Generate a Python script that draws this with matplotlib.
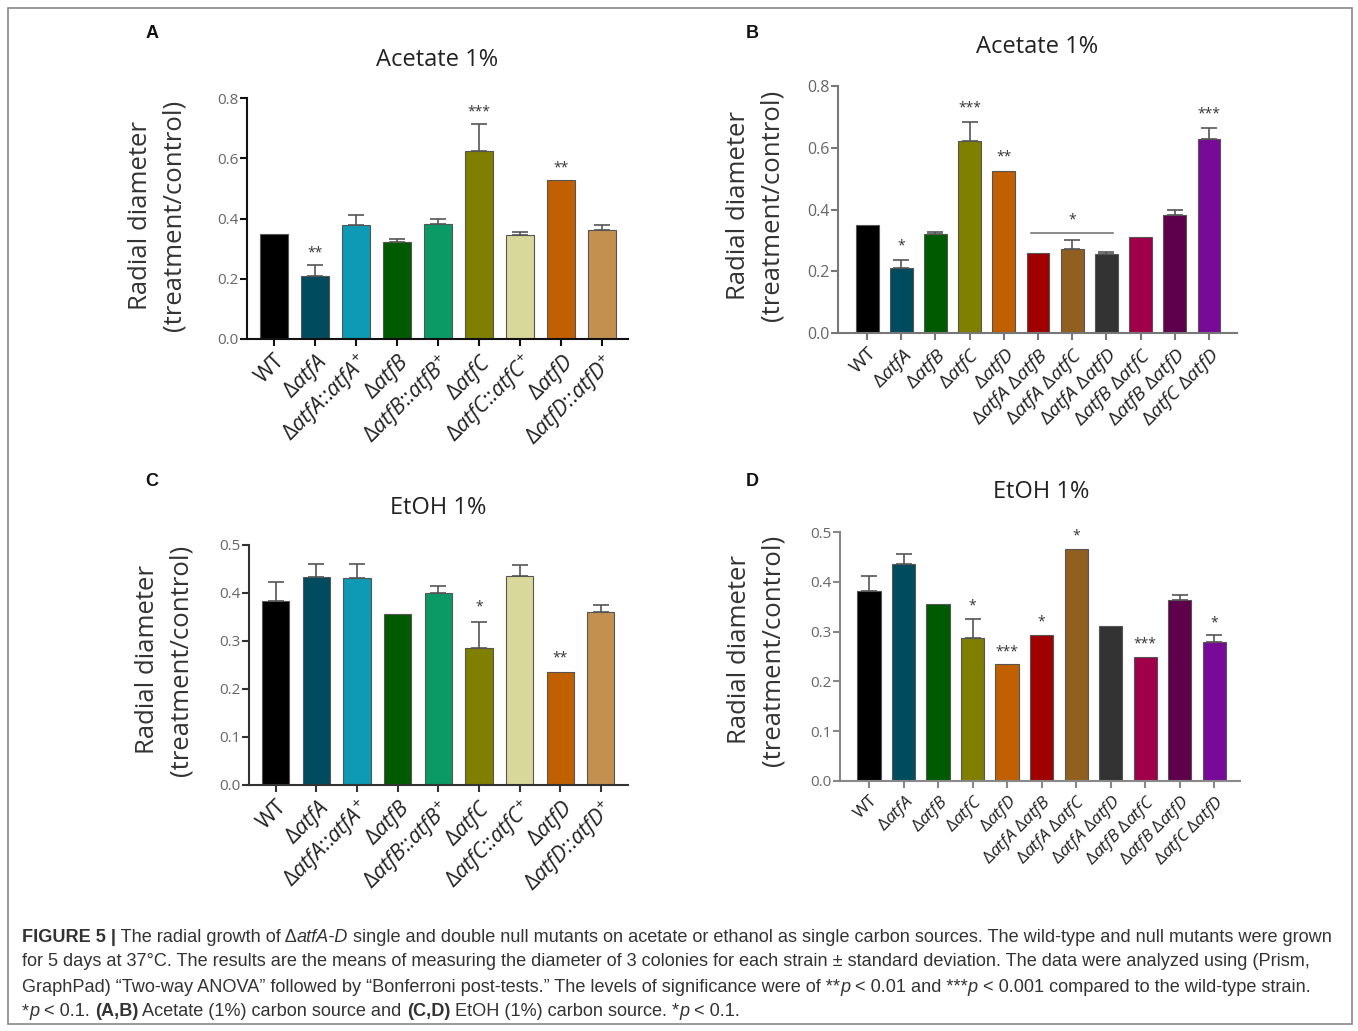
import matplotlib
matplotlib.use('Agg')
import matplotlib.pyplot as plt
from matplotlib.patches import Rectangle
import numpy as np

plt.rcParams['font.family'] = ['Open Sans', 'DejaVu Sans']
plt.rcParams['mathtext.fontset'] = 'custom'
plt.rcParams['mathtext.rm'] = 'Open Sans'
plt.rcParams['mathtext.it'] = 'Open Sans:italic'
plt.rcParams['mathtext.bf'] = 'Open Sans:bold'

W, H = 1358, 1031

# ---- data ----
single_labels = ['WT', r'Δ$\mathit{atfA}$', r'Δ$\mathit{atfA}$::$\mathit{atfA}^{+}$',
                 r'Δ$\mathit{atfB}$', r'Δ$\mathit{atfB}$::$\mathit{atfB}^{+}$',
                 r'Δ$\mathit{atfC}$', r'Δ$\mathit{atfC}$::$\mathit{atfC}^{+}$',
                 r'Δ$\mathit{atfD}$', r'Δ$\mathit{atfD}$::$\mathit{atfD}^{+}$']
double_labels = ['WT', r'Δ$\mathit{atfA}$', r'Δ$\mathit{atfB}$', r'Δ$\mathit{atfC}$', r'Δ$\mathit{atfD}$',
                 r'Δ$\mathit{atfA}$ Δ$\mathit{atfB}$', r'Δ$\mathit{atfA}$ Δ$\mathit{atfC}$',
                 r'Δ$\mathit{atfA}$ Δ$\mathit{atfD}$', r'Δ$\mathit{atfB}$ Δ$\mathit{atfC}$',
                 r'Δ$\mathit{atfB}$ Δ$\mathit{atfD}$', r'Δ$\mathit{atfC}$ Δ$\mathit{atfD}$']

single_colors = ['#000000', '#004c5e', '#0e99b4', '#005a00', '#0b9966',
                 '#7f7f00', '#d8d89a', '#c06000', '#c4904f']
double_colors = ['#000000', '#004c5e', '#005a00', '#7f7f00', '#c06000',
                 '#a00000', '#915f20', '#333333', '#a0004a', '#5e004c', '#780a98']

acetate_single = [0.350, 0.208, 0.378, 0.321, 0.381, 0.624, 0.346, 0.529, 0.361]
acetate_single_sd = [0, 0.039, 0.035, 0.010, 0.016, 0.090, 0.010, 0, 0.016]
acetate_single_sig = ['', '**', '', '', '', '***', '', '**', '']

acetate_double = [0.350, 0.209, 0.321, 0.622, 0.526, 0.258, 0.273, 0.256, 0.311, 0.383, 0.629]
acetate_double_sd = [0, 0.027, 0.007, 0.063, 0, 0, 0.027, 0.007, 0, 0.017, 0.036]
acetate_double_sig = ['', '*', '', '***', '**', '', '', '', '', '', '***']

etoh_single = [0.383, 0.434, 0.431, 0.356, 0.401, 0.286, 0.436, 0.235, 0.361]
etoh_single_sd = [0.040, 0.027, 0.029, 0, 0.014, 0.054, 0.022, 0, 0.015]
etoh_single_sig = ['', '', '', '', '', '*', '', '**', '']

etoh_double = [0.382, 0.435, 0.356, 0.288, 0.234, 0.294, 0.466, 0.312, 0.250, 0.363, 0.279]
etoh_double_sd = [0.030, 0.020, 0, 0.038, 0, 0, 0, 0, 0, 0.010, 0.014]
etoh_double_sig = ['', '', '', '*', '***', '*', '*', '', '***', '', '*']


def px_box(left, right, bottom, top):
    return [left / W, 1 - bottom / H, (right - left) / W, (bottom - top) / H]


def bar_panel(ax, labels, vals, sds, sigs, colors, ymax, step, xlim, spine_col,
              tick_fs, lab_fs, star_off):
    x = np.arange(len(vals))
    ax.bar(x, vals, width=0.67, color=colors, edgecolor='#555555', linewidth=0.8, zorder=2)
    for xi, v, s in zip(x, vals, sds):
        if s > 0:
            ax.errorbar(xi, v, yerr=[[0], [s]], fmt='none', ecolor='#555555',
                        elinewidth=1.2, capsize=6, capthick=1.2, zorder=1)
    for xi, v, s, g in zip(x, vals, sds, sigs):
        if g:
            ax.text(xi, v + s + star_off, g, ha='center', va='center', fontsize=10,
                    color='#333333')
    ax.set_xlim(*xlim)
    ax.set_ylim(0, ymax)
    ax.set_yticks(np.arange(0, ymax + 1e-9, step))
    ax.set_yticklabels(['%.1f' % t for t in np.arange(0, ymax + 1e-9, step)])
    ax.set_xticks(x)
    ax.set_xticklabels(labels, rotation=45, ha='right', rotation_mode='anchor',
                       fontsize=lab_fs, color='#222222')
    for sp in ['top', 'right']:
        ax.spines[sp].set_visible(False)
    for sp in ['left', 'bottom']:
        ax.spines[sp].set_color(spine_col)
        ax.spines[sp].set_linewidth(1.5)
    ax.tick_params(axis='both', direction='out', length=5, width=1.5, color=spine_col)
    ax.tick_params(axis='y', labelsize=tick_fs, labelcolor='#666666', pad=1)
    ax.tick_params(axis='x', pad=3)


fig = plt.figure(figsize=(W / 100, H / 100), dpi=100)
fig.patches.append(Rectangle((8 / W, 7 / H), (1352 - 8) / W, (1024 - 8) / H,
                             transform=fig.transFigure, fill=False, edgecolor='#888888',
                             linewidth=1.2))

axA = fig.add_axes(px_box(247, 628, 339, 98))
bar_panel(axA, single_labels, acetate_single, acetate_single_sd, acetate_single_sig,
          single_colors, 0.8, 0.2, (-0.66, 8.63), '#111111', 11, 15.5, 0.04)

axB = fig.add_axes(px_box(838, 1237, 333, 86))
bar_panel(axB, double_labels, acetate_double, acetate_double_sd, acetate_double_sig,
          double_colors, 0.8, 0.2, (-0.85, 10.82), '#777777', 11.5, 14, 0.045)
# group bracket over the double mutants A/B, A/C, A/D
axB.plot([4.8, 7.2], [0.325, 0.325], color='#777777', lw=1.2)
axB.text(6, 0.365, '*', ha='center', va='center', fontsize=10, color='#333333')

axC = fig.add_axes(px_box(249, 628, 785, 545))
bar_panel(axC, single_labels, etoh_single, etoh_single_sd, etoh_single_sig,
          single_colors, 0.5, 0.1, (-0.66, 8.67), '#333333', 11, 15.5, 0.03)

axD = fig.add_axes(px_box(840, 1240, 781, 532))
bar_panel(axD, double_labels, etoh_double, etoh_double_sd, etoh_double_sig,
          double_colors, 0.5, 0.1, (-0.84, 10.75), '#888888', 11, 12.5, 0.025)

# titles, panel letters, y labels
for t, x, y in [('Acetate 1%', 437, 60), ('Acetate 1%', 1037, 47),
                ('EtOH 1%', 438, 508), ('EtOH 1%', 1041, 492)]:
    fig.text(x / W, 1 - y / H, t, ha='center', va='center', fontsize=17, color='#222222')
for t, x, y in [('A', 152, 33), ('B', 752, 33), ('C', 152, 481), ('D', 752, 481)]:
    fig.text(x / W, 1 - y / H, t, ha='center', va='center', fontsize=13,
             fontweight='bold', family=['Liberation Sans', 'DejaVu Sans'], color='#111111')
for x, y in [(157, 215), (755, 205), (164, 660), (756, 650)]:
    fig.text(x / W, 1 - y / H, 'Radial diameter\n(treatment/control)', rotation=90,
             ha='center', va='center', multialignment='center', fontsize=18.5,
             color='#333333', linespacing=1.45)

# caption, drawn as runs of mixed style
cap_font = ['Liberation Sans Narrow', 'Liberation Sans', 'DejaVu Sans']
caption = [
    [('FIGURE 5 |', 'bold', 'normal'), (' The radial growth of Δ', 'normal', 'normal'),
     ('atfA-D', 'normal', 'italic'),
     (' single and double null mutants on acetate or ethanol as single carbon sources. '
      'The wild-type and null mutants were grown', 'normal', 'normal')],
    [('for 5 days at 37°C. The results are the means of measuring the diameter of 3 colonies '
      'for each strain ± standard deviation. The data were analyzed using (Prism,', 'normal', 'normal')],
    [('GraphPad) “Two-way ANOVA” followed by “Bonferroni post-tests.” The levels of significance '
      'were of **', 'normal', 'normal'), ('p', 'normal', 'italic'), (' < 0.01 and ***', 'normal', 'normal'),
     ('p', 'normal', 'italic'), (' < 0.001 compared to the wild-type strain.', 'normal', 'normal')],
    [('*', 'normal', 'normal'), ('p', 'normal', 'italic'), (' < 0.1. ', 'normal', 'normal'),
     ('(A,B)', 'bold', 'normal'), (' Acetate (1%) carbon source and ', 'normal', 'normal'),
     ('(C,D)', 'bold', 'normal'), (' EtOH (1%) carbon source. *', 'normal', 'normal'),
     ('p', 'normal', 'italic'), (' < 0.1.', 'normal', 'normal')],
]
renderer = fig.canvas.get_renderer()
for i, line in enumerate(caption):
    x = 22
    y = 1 - (937 + 25 * i) / H
    for txt, wt, st in line:
        t = fig.text(x / W, y, txt, ha='left', va='center', fontsize=13.1, fontweight=wt,
                     fontstyle=st, family=cap_font, color='#333333')
        x += t.get_window_extent(renderer).width

fig.savefig('out.png', dpi=100)
